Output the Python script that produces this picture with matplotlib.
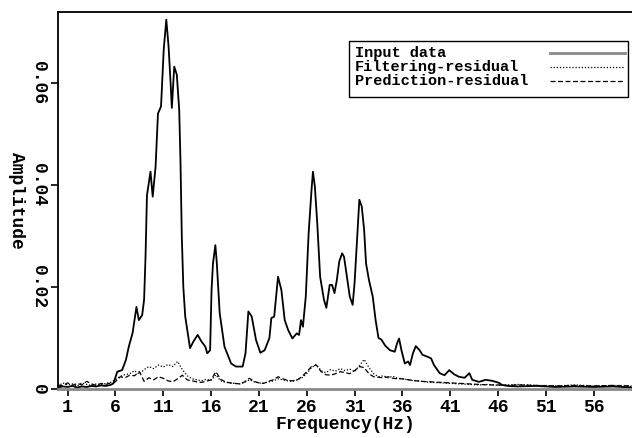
import numpy as np
import matplotlib
matplotlib.use('Agg')
from matplotlib import pyplot as plt
from matplotlib.lines import Line2D
from matplotlib.patches import Rectangle

# input data spectrum (Hz, amplitude x 1e-3)
freq_input = [0, 0.5, 1, 1.5, 2, 2.5, 3, 3.5, 4, 4.5, 5, 5.5, 5.8, 6.2, 6.7, 7.1, 7.4, 7.8, 7.95,
              8.2, 8.45, 8.8, 9.0, 9.15, 9.3, 9.67, 9.9, 10.2, 10.45, 10.77, 11.05, 11.32, 11.56,
              11.77, 11.9, 12.15, 12.42, 12.67, 12.8, 12.94, 13.1, 13.3, 13.8, 14.15, 14.6, 15.0,
              15.4, 15.6, 15.9, 16.05, 16.2, 16.45, 16.6, 16.9, 17.4, 18.1, 18.6, 19.3, 19.6, 19.9,
              20.25, 20.7, 21.15, 21.6, 22.1, 22.3, 22.6, 23.0, 23.35, 23.7, 24.05, 24.5, 24.95,
              25.2, 25.4, 25.6, 25.9, 26.2, 26.5, 26.65, 26.85, 27.1, 27.4, 27.8, 28.05, 28.4,
              28.65, 28.9, 29.15, 29.4, 29.7, 29.9, 30.2, 30.5, 30.8, 31.0, 31.3, 31.5, 31.75,
              32.0, 32.2, 32.5, 32.9, 33.2, 33.5, 33.8, 34.2, 34.7, 35.2, 35.45, 35.65, 35.9,
              36.25, 36.6, 36.8, 37.1, 37.4, 37.8, 38.1, 38.65, 39.0, 39.3, 39.9, 40.4, 40.9,
              41.4, 41.9, 42.5, 43.0, 43.3, 44.0, 44.7, 45.4, 46.1, 46.4, 47, 48, 50, 52, 54, 56,
              58, 60]
amp_input = [0.3, 0.5, 0.4, 0.6, 0.3, 0.5, 0.4, 0.6, 0.5, 0.7, 0.6, 0.8, 1.1, 3.4, 3.7, 5.7, 8.3,
             11.0, 12.9, 16.1, 13.5, 14.5, 17.5, 26.0, 38.0, 42.6, 37.7, 43.6, 54.0, 55.4, 66.5,
             72.4, 67.1, 60.0, 55.1, 63.2, 61.6, 54.7, 44.9, 30.0, 20.0, 14.2, 8.0, 9.3, 10.6,
             9.3, 8.3, 7.0, 7.6, 19.4, 24.6, 28.2, 24.7, 14.9, 8.3, 5.0, 4.4, 4.4, 7.0, 15.2,
             14.2, 9.6, 7.1, 7.6, 10.0, 13.9, 14.2, 22.0, 19.4, 13.5, 11.6, 9.9, 10.9, 10.6,
             13.5, 12.2, 18.1, 30.6, 39.0, 42.6, 39.7, 32.5, 22.0, 17.5, 15.9, 20.4, 20.4, 18.8,
             21.4, 25.0, 26.6, 25.9, 22.0, 18.1, 16.5, 20.8, 30.6, 37.1, 35.8, 31.2, 24.6, 21.4,
             18.1, 13.5, 10.0, 9.7, 8.5, 7.6, 7.3, 9.0, 9.9, 7.6, 5.0, 5.4, 4.7, 7.0, 8.4, 7.6,
             6.7, 6.3, 6.0, 4.7, 3.1, 2.7, 3.7, 2.9, 2.4, 2.2, 3.1, 1.8, 1.4, 1.8, 1.6, 1.2,
             0.8, 0.6, 0.5, 0.6, 0.4, 0.5, 0.4, 0.5, 0.3]

# residual spectra (Hz, amplitude x 1e-3)
freq_resid = [0, 0.5, 1, 1.5, 2, 2.5, 3, 3.5, 4, 4.5, 5, 5.5, 6, 6.5, 7, 7.5, 8, 8.5, 9, 9.5,
              10, 10.5, 11, 11.5, 12, 12.5, 13, 13.5, 14, 14.5, 15, 15.5, 16, 16.5, 17, 17.5,
              18, 18.5, 19, 19.5, 20, 20.5, 21, 21.5, 22, 22.5, 23, 23.5, 24, 24.5, 25, 25.5,
              26, 26.5, 27, 27.5, 28, 28.5, 29, 29.5, 30, 30.5, 31, 31.5, 32, 32.5, 33, 33.5,
              34, 34.5, 35, 35.5, 36, 37, 38, 39, 40, 41, 42, 43, 44, 45, 46, 47, 48, 50, 52,
              54, 56, 58, 60]
amp_filter = [0.5, 1.2, 0.8, 1.0, 0.6, 1.2, 0.9, 0.7, 1.0, 0.8, 1.1, 1.3, 1.8, 2.5, 2.8, 3.0,
              3.6, 2.9, 3.8, 4.4, 4.0, 4.7, 4.3, 4.8, 4.4, 5.4, 3.8, 2.6, 2.0, 1.8, 1.6, 1.9,
              1.7, 2.8, 1.6, 1.3, 1.2, 1.1, 1.0, 1.3, 1.8, 1.4, 1.2, 1.1, 1.4, 1.6, 2.0, 1.8,
              1.6, 1.5, 1.8, 2.2, 3.0, 4.2, 4.8, 3.6, 3.2, 3.8, 3.5, 4.0, 3.6, 3.9, 3.4, 4.5,
              5.8, 4.2, 3.0, 2.4, 2.6, 2.2, 2.5, 2.1, 2.0, 1.7, 1.5, 1.3, 1.2, 1.1, 1.0, 0.9,
              0.8, 0.9, 0.7, 0.8, 0.9, 0.7, 0.6, 0.8, 0.6, 0.7, 0.5]
amp_predict = [0.8, 0.6, 1.2, 0.7, 1.1, 0.8, 1.5, 1.0, 0.7, 1.1, 0.9, 1.2, 1.4, 2.4, 2.2, 2.7,
               2.6, 3.4, 1.5, 2.2, 1.8, 2.4, 2.1, 1.6, 1.4, 2.0, 2.7, 1.8, 1.6, 1.4, 1.3, 1.5,
               1.8, 3.4, 1.9, 1.4, 1.2, 1.1, 1.0, 1.4, 2.1, 1.5, 1.2, 1.1, 1.5, 1.8, 2.4, 2.0,
               1.7, 1.6, 1.8, 2.4, 3.4, 4.4, 4.7, 3.4, 2.8, 2.7, 3.0, 3.4, 3.2, 3.0, 3.6, 4.4,
               4.2, 3.0, 2.4, 2.3, 2.2, 2.4, 2.1, 2.0, 2.0, 1.7, 1.5, 1.4, 1.3, 1.2, 1.1, 1.0,
               0.9, 0.8, 0.8, 0.7, 0.8, 0.7, 0.6, 0.7, 0.6, 0.7, 0.6]

xticks = [1, 6, 11, 16, 21, 26, 31, 36, 41, 46, 51, 56]
yticks = [0, 0.02, 0.04, 0.06]
ytick_labels = ['0', '0.02', '0.04', '0.06']
legend_labels = ['Input data', 'Filtering-residual', 'Prediction-residual']

plt.rcParams['font.family'] = ['Liberation Mono']
plt.rcParams['font.weight'] = 'bold'
plt.rcParams['axes.labelweight'] = 'bold'

W, H = 632, 438
fig = plt.figure(figsize=(W / 100, H / 100), dpi=100)
ax = fig.add_axes([58 / W, 49 / H, 1 - 58 / W, 377 / H])

styles = [dict(color='black', lw=1.3, ls='-'),
          dict(color='black', lw=0.9, ls=(0, (1, 1.5))),
          dict(color='black', lw=0.9, ls=(0, (4, 2)))]

ax.plot(freq_input, np.array(amp_input) * 1e-3, **styles[0])
ax.plot(freq_resid, np.array(amp_filter) * 1e-3, **styles[1])
ax.plot(freq_resid, np.array(amp_predict) * 1e-3, **styles[2])

ax.set_xlim(0, 60)
ax.set_ylim(0, 0.0739)
ax.set_xticks(xticks)
ax.set_yticks(yticks)
ax.set_yticklabels(ytick_labels, rotation=270, va='center')
ax.tick_params(axis='both', direction='out', length=5, width=1.2, labelsize=13)
ax.tick_params(axis='y', pad=3)
ax.tick_params(axis='x', pad=2)
ax.spines['right'].set_visible(False)
ax.spines['bottom'].set_color('#888888')
ax.spines['bottom'].set_linewidth(2)
for s in ['left', 'top']:
    ax.spines[s].set_linewidth(1.3)

ax.set_xlabel('Frequency(Hz)', fontsize=13, labelpad=0)
ax.set_ylabel('Amplitude', fontsize=13, rotation=270, va='center')
ax.yaxis.set_label_coords(-0.072, 0.5)

# legend box drawn by hand: text on the left, line samples on the right
fig.add_artist(Rectangle((349 / W, 1 - 97 / H), 279 / W, 56 / H, transform=fig.transFigure,
                         facecolor='white', edgecolor='black', lw=1.0))
for i, lab in enumerate(legend_labels):
    yc = 1 - (53 + 14 * i) / H
    fig.text(355 / W, yc, lab, fontsize=11, va='center', ha='left')
    st = dict(styles[i])
    if i == 0:
        st['color'] = '#888888'
        st['lw'] = 2.0
    fig.add_artist(Line2D([550 / W, 625 / W], [yc, yc], transform=fig.transFigure, **st))

plt.savefig('out.png', dpi=100)
plt.close()
